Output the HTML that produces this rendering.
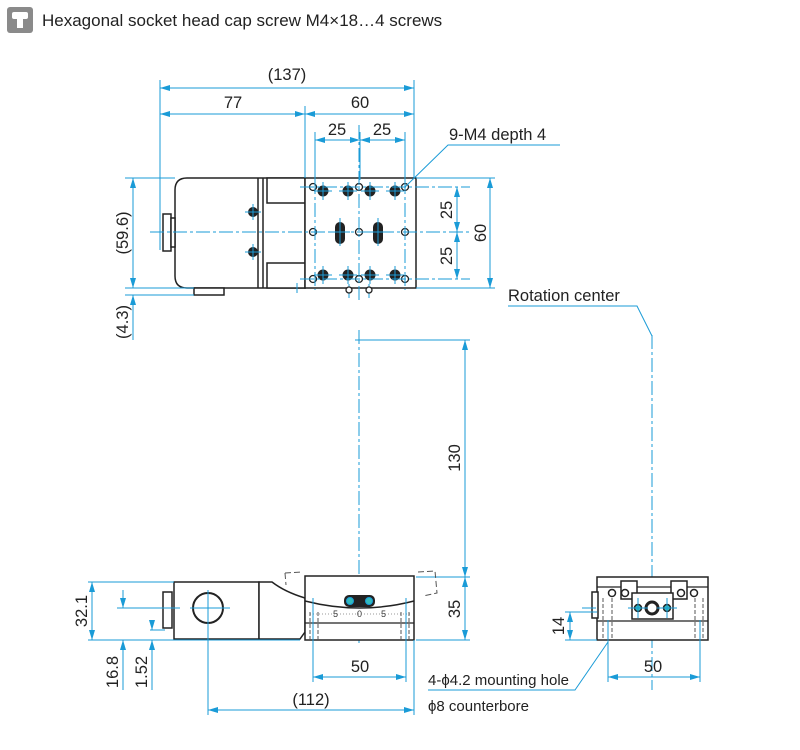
<!DOCTYPE html>
<html><head><meta charset="utf-8"><style>
body{margin:0;background:#fff;}
svg{display:block;font-family:"Liberation Sans",sans-serif;}
.d{stroke:#1a9bd7;stroke-width:1;fill:none}
.c{stroke:#1a9bd7;stroke-width:1;fill:none;stroke-dasharray:14 3 3 3}
.o{stroke:#222;stroke-width:1.5;fill:#fff}
.t{font-size:16.5px;fill:#222}
.h{stroke:#555;stroke-width:1;fill:none;stroke-dasharray:4 2}
</style></head><body>
<svg width="800" height="750" viewBox="0 0 800 750">
<defs>
<marker id="a" viewBox="0 0 10 6" refX="10" refY="3" markerWidth="10" markerHeight="6" orient="auto-start-reverse" markerUnits="userSpaceOnUse"><path d="M0,0L10,3L0,6z" fill="#1a9bd7"/></marker>
</defs>
<!-- header -->
<rect x="7" y="7" width="26" height="26" rx="3" fill="#8a8a8a"/>
<rect x="12" y="12" width="16" height="7" rx="2" fill="#fff"/>
<rect x="17" y="18" width="6" height="10" fill="#fff"/>
<text x="42" y="26" font-size="17" fill="#222">Hexagonal socket head cap screw M4×18…4 screws</text>

<!-- TOP VIEW -->
<path class="o" d="M187,178H305V288H187Q175,288 175,276V190Q175,178 187,178Z"/>
<line x1="258" y1="178" x2="258" y2="288" stroke="#222" stroke-width="1.5"/>
<line x1="263" y1="178" x2="263" y2="288" stroke="#222" stroke-width="1.5"/>
<rect x="267" y="178" width="38" height="25" class="o"/>
<rect x="267" y="263" width="38" height="25" class="o"/>
<rect x="163" y="214" width="8" height="37" class="o"/>
<rect x="171" y="218" width="4" height="29" class="o"/>
<rect x="194" y="288" width="30" height="7" class="o"/>
<rect x="305" y="178" width="111" height="110" class="o"/>
<g fill="#222">
<circle cx="253" cy="212" r="5"/><circle cx="253" cy="252" r="5"/>
<circle cx="323" cy="191" r="5.5"/><circle cx="348" cy="191" r="5.5"/><circle cx="370" cy="191" r="5.5"/><circle cx="395" cy="191" r="5.5"/>
<circle cx="323" cy="275" r="5.5"/><circle cx="348" cy="275" r="5.5"/><circle cx="370" cy="275" r="5.5"/><circle cx="395" cy="275" r="5.5"/>
<rect x="335" y="222" width="10" height="22" rx="5"/><rect x="373" y="222" width="10" height="22" rx="5"/>
</g>
<g class="d">
<path d="M245,212h16M253,204v16M245,252h16M253,244v16"/>
<path d="M314,191h18M323,182v18M339,191h18M348,182v18M361,191h18M370,182v18M386,191h18M395,182v18"/>
<path d="M314,275h18M323,266v18M339,275h18M348,266v18M361,275h18M370,266v18M386,275h18M395,266v18"/>
<path d="M330,232h20M340,218v28M368,232h20M378,218v28"/>
<path d="M349,284v14M369,284v14M297,283v10"/>
</g>
<g fill="#fff" stroke="#222" stroke-width="1.3">
<circle cx="313" cy="187" r="3.5"/><circle cx="359" cy="187" r="3.5"/><circle cx="405" cy="187" r="3.5"/>
<circle cx="313" cy="232" r="3.5"/><circle cx="359" cy="232" r="3.5"/><circle cx="405" cy="232" r="3.5"/>
<circle cx="313" cy="279" r="3.5"/><circle cx="359" cy="279" r="3.5"/><circle cx="405" cy="279" r="3.5"/>
<circle cx="349" cy="290" r="3"/><circle cx="369" cy="290" r="3"/>
</g>
<g class="c">
<line x1="150" y1="232" x2="470" y2="232"/>
<line x1="300" y1="187" x2="470" y2="187"/><line x1="300" y1="279" x2="470" y2="279"/>
<line x1="359" y1="125" x2="359" y2="300"/>
<line x1="315" y1="180" x2="315" y2="290" /><line x1="405" y1="180" x2="405" y2="290"/>
</g>
<g class="d">
<line x1="160" y1="80" x2="160" y2="250"/><line x1="305" y1="106" x2="305" y2="178"/><line x1="414" y1="80" x2="414" y2="178"/>
<line x1="315" y1="132" x2="315" y2="180"/><line x1="360" y1="132" x2="360" y2="180"/><line x1="405" y1="132" x2="405" y2="180"/>
<line x1="160" y1="88" x2="414" y2="88" marker-start="url(#a)" marker-end="url(#a)"/>
<line x1="160" y1="114" x2="305" y2="114" marker-start="url(#a)" marker-end="url(#a)"/>
<line x1="305" y1="114" x2="414" y2="114" marker-start="url(#a)" marker-end="url(#a)"/>
<line x1="315" y1="140" x2="360" y2="140" marker-start="url(#a)" marker-end="url(#a)"/>
<line x1="360" y1="140" x2="405" y2="140" marker-start="url(#a)" marker-end="url(#a)"/>
<line x1="125" y1="178" x2="175" y2="178"/><line x1="125" y1="288" x2="194" y2="288"/><line x1="125" y1="295" x2="194" y2="295"/>
<line x1="133" y1="178" x2="133" y2="288" marker-start="url(#a)" marker-end="url(#a)"/>
<line x1="133" y1="295" x2="133" y2="340" marker-start="url(#a)"/>
<line x1="416" y1="178" x2="495" y2="178"/><line x1="416" y1="288" x2="495" y2="288"/>
<line x1="457" y1="187" x2="457" y2="232" marker-start="url(#a)" marker-end="url(#a)"/>
<line x1="457" y1="232" x2="457" y2="279" marker-start="url(#a)" marker-end="url(#a)"/>
<line x1="490" y1="178" x2="490" y2="288" marker-start="url(#a)" marker-end="url(#a)"/>
<polyline points="405,187 448,145 560,145"/>
<polyline points="508,306 637,306 652,336"/>
</g>
<text class="t" x="287" y="80" text-anchor="middle">(137)</text>
<text class="t" x="233" y="108" text-anchor="middle">77</text>
<text class="t" x="360" y="108" text-anchor="middle">60</text>
<text class="t" x="337" y="135" text-anchor="middle">25</text>
<text class="t" x="382" y="135" text-anchor="middle">25</text>
<text class="t" x="449" y="140">9-M4 depth 4</text>
<text class="t" x="508" y="301">Rotation center</text>
<text class="t" transform="translate(452,210) rotate(-90)" text-anchor="middle">25</text>
<text class="t" transform="translate(452,256) rotate(-90)" text-anchor="middle">25</text>
<text class="t" transform="translate(486,233) rotate(-90)" text-anchor="middle">60</text>
<text class="t" transform="translate(128,233) rotate(-90)" text-anchor="middle">(59.6)</text>
<text class="t" transform="translate(128,322) rotate(-90)" text-anchor="middle">(4.3)</text>

<!-- center lines -->
<line class="c" x1="359" y1="330" x2="359" y2="645"/>
<line class="c" x1="652" y1="335" x2="652" y2="690"/>
<g class="d">
<line x1="355" y1="340" x2="470" y2="340"/><line x1="416" y1="577" x2="470" y2="577"/><line x1="416" y1="640" x2="470" y2="640"/>
<line x1="465" y1="340" x2="465" y2="577" marker-start="url(#a)" marker-end="url(#a)"/>
<line x1="465" y1="577" x2="465" y2="640" marker-start="url(#a)" marker-end="url(#a)"/>
</g>
<text class="t" transform="translate(460,458) rotate(-90)" text-anchor="middle">130</text>
<text class="t" transform="translate(460,609) rotate(-90)" text-anchor="middle">35</text>

<!-- FRONT VIEW -->
<path d="M285,573L302,572M285,573L286,585M418,572L435,571L437,593L423,596" stroke="#555" stroke-width="1" fill="none" stroke-dasharray="6 3"/>
<rect x="174" y="582" width="85" height="57" class="o"/>
<path class="o" d="M259,582L272,582Q285,592 305,598V632L300,639H259Z"/>
<rect x="163" y="592" width="9" height="36" class="o"/>
<circle cx="208" cy="608" r="15" fill="#fff" stroke="#222" stroke-width="2"/>
<rect x="305" y="576" width="109" height="64" class="o"/>
<path d="M305,601Q360,615 414,601" stroke="#222" stroke-width="1.5" fill="none"/>
<line x1="305" y1="623" x2="414" y2="623" stroke="#222" stroke-width="1.3"/>
<rect x="344" y="595" width="31" height="12" rx="5" fill="#222"/>
<circle cx="350" cy="601" r="3.5" fill="#3bb" stroke="#1a9bd7"/><circle cx="369" cy="601" r="3.5" fill="#3bb" stroke="#1a9bd7"/>
<g font-size="9" fill="#333"><text x="333" y="617">5</text><text x="357" y="617">0</text><text x="381" y="617">5</text></g>
<path d="M310,614H410" stroke="#777" stroke-width="0.8" stroke-dasharray="1 2"/>
<line class="h" x1="310" y1="612" x2="310" y2="640"/><line class="h" x1="318" y1="612" x2="318" y2="640"/>
<line class="h" x1="401" y1="612" x2="401" y2="640"/><line class="h" x1="409" y1="612" x2="409" y2="640"/>
<g class="d">
<line x1="88" y1="582" x2="174" y2="582"/><line x1="88" y1="640" x2="300" y2="640"/>
<line x1="92" y1="582" x2="92" y2="640" marker-start="url(#a)" marker-end="url(#a)"/>
<line x1="117" y1="608" x2="180" y2="608"/><line x1="150" y1="630" x2="165" y2="630"/>
<line x1="123" y1="590" x2="123" y2="608" marker-end="url(#a)"/>
<line x1="123" y1="640" x2="123" y2="690" marker-start="url(#a)"/>
<line x1="152" y1="620" x2="152" y2="630" marker-end="url(#a)"/>
<line x1="152" y1="640" x2="152" y2="690" marker-start="url(#a)"/>
<line x1="208" y1="590" x2="208" y2="715"/><line x1="190" y1="608" x2="230" y2="608"/>
<line x1="313" y1="598" x2="313" y2="682"/><line x1="406" y1="598" x2="406" y2="682"/><line x1="414" y1="640" x2="414" y2="715"/>
<line x1="313" y1="677" x2="406" y2="677" marker-start="url(#a)" marker-end="url(#a)"/>
<line x1="208" y1="710" x2="414" y2="710" marker-start="url(#a)" marker-end="url(#a)"/>
</g>
<text class="t" transform="translate(87,611) rotate(-90)" text-anchor="middle">32.1</text>
<text class="t" transform="translate(118,672) rotate(-90)" text-anchor="middle">16.8</text>
<text class="t" transform="translate(147,672) rotate(-90)" text-anchor="middle">1.52</text>
<text class="t" x="360" y="672" text-anchor="middle">50</text>
<text class="t" x="311" y="705" text-anchor="middle">(112)</text>

<!-- SIDE VIEW -->
<rect x="597" y="577" width="111" height="63" class="o"/>
<line x1="597" y1="587" x2="708" y2="587" stroke="#222" stroke-width="1.2"/>
<line x1="597" y1="621" x2="708" y2="621" stroke="#222" stroke-width="1.2"/>
<rect x="592" y="592" width="6" height="26" class="o"/>
<rect x="621" y="581" width="16" height="18" class="o"/><rect x="671" y="581" width="16" height="18" class="o"/>
<rect x="632" y="593" width="41" height="26" class="o"/>
<circle cx="612" cy="593" r="3.5" fill="#fff" stroke="#222" stroke-width="1.5"/><circle cx="625" cy="593" r="3.5" fill="#fff" stroke="#222" stroke-width="1.5"/>
<circle cx="681" cy="593" r="3.5" fill="#fff" stroke="#222" stroke-width="1.5"/><circle cx="694" cy="593" r="3.5" fill="#fff" stroke="#222" stroke-width="1.5"/>
<circle cx="652" cy="608" r="6" fill="#fff" stroke="#222" stroke-width="3"/>
<circle cx="638" cy="608" r="3.5" fill="#3bb" stroke="#222" stroke-width="1.5"/><circle cx="667" cy="608" r="3.5" fill="#3bb" stroke="#222" stroke-width="1.5"/>
<line class="h" x1="603" y1="598" x2="603" y2="640"/><line class="h" x1="612" y1="598" x2="612" y2="640"/>
<line class="h" x1="695" y1="598" x2="695" y2="640"/><line class="h" x1="703" y1="598" x2="703" y2="640"/>
<g class="d">
<path d="M628,608h20M638,598v20M657,608h20M667,598v20M582,608h14"/>
<line x1="565" y1="612" x2="597" y2="612"/><line x1="565" y1="640" x2="597" y2="640"/>
<line x1="570" y1="612" x2="570" y2="640" marker-start="url(#a)" marker-end="url(#a)"/>
<line x1="608" y1="620" x2="608" y2="682"/><line x1="700" y1="620" x2="700" y2="682"/>
<line x1="608" y1="677" x2="700" y2="677" marker-start="url(#a)" marker-end="url(#a)"/>
<polyline points="428,690 575,690 608,642"/>
</g>
<text class="t" transform="translate(564,626) rotate(-90)" text-anchor="middle">14</text>
<text class="t" x="653" y="672" text-anchor="middle">50</text>
<text x="428" y="685" font-size="15" fill="#222">4-ϕ4.2 mounting hole</text>
<text x="428" y="711" font-size="15" fill="#222">ϕ8 counterbore</text>
</svg>
</body></html>
